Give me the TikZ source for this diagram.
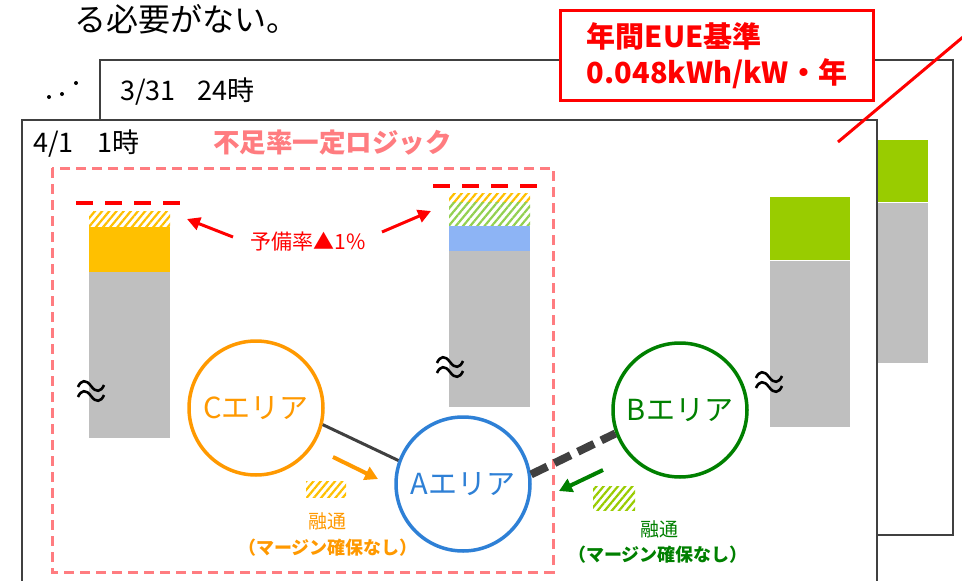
\documentclass[tikz,border=0pt]{standalone}
\usepackage{fontspec}
\setmainfont{Noto Sans CJK JP}
\usetikzlibrary{patterns.meta,arrows.meta}
\definecolor{frameg}{RGB}{64,64,64}
\definecolor{pinkc}{RGB}{255,124,128}
\definecolor{redc}{RGB}{255,0,0}
\definecolor{orangec}{RGB}{255,153,0}
\definecolor{goldc}{RGB}{255,192,0}
\definecolor{grayc}{RGB}{191,191,191}
\definecolor{bluebar}{RGB}{141,180,245}
\definecolor{greenbar}{RGB}{153,204,0}
\definecolor{lightgreen}{RGB}{146,208,80}
\definecolor{bluec}{RGB}{46,128,214}
\definecolor{greenc}{RGB}{0,128,0}
\begin{document}
\begin{tikzpicture}[x=1pt,y=-1pt,
  fr/.style={draw=frameg, line width=2pt, fill=white},
  hatchg/.style={pattern={Lines[angle=50,distance=5.5pt,line width=2.2pt]}, pattern color=#1},
  area/.style={circle, line width=3.5pt, minimum size=134pt, inner sep=0pt, font=\fontsize{29}{30}\selectfont},
  redarrow/.style={draw=redc, line width=3pt, -{Triangle[length=13pt,width=13pt]}},
  flowarrow/.style={line width=4pt, -{Triangle[length=13pt,width=14pt]}},
  txt/.style={inner sep=0pt, anchor=west},
  squig/.pic={\draw[line width=2.6pt] (0,1) .. controls (3,-6) and (8,-7) .. (13,0) .. controls (18,7) and (23,6) .. (26,-1);
              \draw[line width=2.6pt] (0,11) .. controls (3,4) and (8,3) .. (13,10) .. controls (18,17) and (23,16) .. (26,9);}
]
\useasboundingbox (0,0) rectangle (962,581);
\fill[white] (0,0) rectangle (962,581);

\node[txt, font=\fontsize{32}{36}\selectfont] (toptext) at (74,19) {る必要がない。};
\fill (49,97) circle (2pt);
\fill (62,94) circle (2pt);
\fill (76,83) circle (2pt);

% back frame
\draw[fr] (100,60) rectangle (953,535);
\node[txt, font=\fontsize{27}{30}\selectfont] (t331) at (120,92) {3/31\hspace{22pt}24時};
\fill[greenbar] (860,140) rectangle (928,202);
\fill[grayc] (860,203) rectangle (928,363);

% front frame
\draw[fr] (22,120) rectangle (877,600);
\node[txt, font=\fontsize{27}{30}\selectfont] (t41) at (33,144) {4/1\hspace{24pt}1時};
\node[txt, text=pinkc, font=\bfseries\fontsize{26.5}{30}\selectfont] (logic) at (213,143) {不足率一定ロジック};
\draw[pinkc, line width=3pt, dash pattern=on 10pt off 6pt] (52,168) rectangle (553,572);

% red dashed reserve lines
\draw[redc, line width=4pt, dash pattern=on 17pt off 12pt] (76,203) -- (181,203);
\draw[redc, line width=4pt, dash pattern=on 17pt off 12pt] (433,186) -- (538,186);

% left bar
\fill[hatchg=goldc] (89,211) rectangle (170,227);
\fill[goldc] (89,227) rectangle (170,272);
\fill[grayc] (89,272) rectangle (170,438);
\pic at (78,386) {squig};

% middle bar
\fill[hatchg=goldc] (449,193) rectangle (530,202);
\fill[hatchg=lightgreen] (449,202) rectangle (530,226);
\fill[bluebar] (449,226) rectangle (530,251);
\fill[grayc] (449,251) rectangle (530,407);
\pic at (437,362) {squig};

% right bar
\fill[greenbar] (770,197) rectangle (850,260);
\fill[grayc] (770,261) rectangle (850,427);
\pic at (756,377) {squig};

% reserve label
\node[text=redc, font=\fontsize{21}{24}\selectfont, inner sep=0pt] (resv) at (308,242) {予備率▲1\%};
\coordinate (rl0) at (233,237);
\coordinate (rl1) at (187,219);
\coordinate (rr0) at (382,232);
\coordinate (rr1) at (431,211);
\draw[redarrow] (rl0) -- (rl1);
\draw[redarrow] (rr0) -- (rr1);

% areas
\node[area, draw=orangec, text=orangec] (C) at (256,408) {Cエリア};
\node[area, draw=bluec, text=bluec] (A) at (463,484) {Aエリア};
\node[area, draw=greenc, text=greenc] (B) at (680,410) {Bエリア};
\draw[frameg, line width=3pt] (C.-14) -- (A.160);
\draw[frameg, line width=8pt, dash pattern=on 18pt off 8pt] (A.8) -- (B.200);

% flows
\coordinate (fo0) at (333,457);
\coordinate (fo1) at (378,479);
\draw[flowarrow, draw=orangec] (fo0) -- (fo1);
\fill[hatchg=goldc] (306,481) rectangle (346,497);
\node[text=orangec, font=\fontsize{19}{20}\selectfont, inner sep=0pt] (yu1) at (327,521) {融通};
\node[text=orangec, font=\bfseries\fontsize{18}{20}\selectfont, inner sep=0pt] (mg1) at (328,548) {（マージン確保なし）};

\coordinate (fg0) at (603,470);
\coordinate (fg1) at (559,491);
\draw[flowarrow, draw=greenc] (fg0) -- (fg1);
\fill[hatchg=greenbar] (593,486) rectangle (635,510);
\node[text=greenc, font=\fontsize{19}{20}\selectfont, inner sep=0pt] (yu2) at (659,529) {融通};
\node[text=greenc, font=\bfseries\fontsize{18}{20}\selectfont, inner sep=0pt] (mg2) at (658,555) {（マージン確保なし）};

% EUE box
\node[draw=redc, line width=3pt, fill=white, minimum width=313pt, minimum height=90pt, text=redc,
      font=\bfseries\fontsize{29}{36}\selectfont, align=left] (eue) at (717,55.5) {年間EUE基準\\0.048kWh/kW・年};
\coordinate (el0) at (963,37);
\coordinate (el1) at (838,142);
\draw[redc, line width=3pt] (el0) -- (el1);
\end{tikzpicture}
\end{document}
